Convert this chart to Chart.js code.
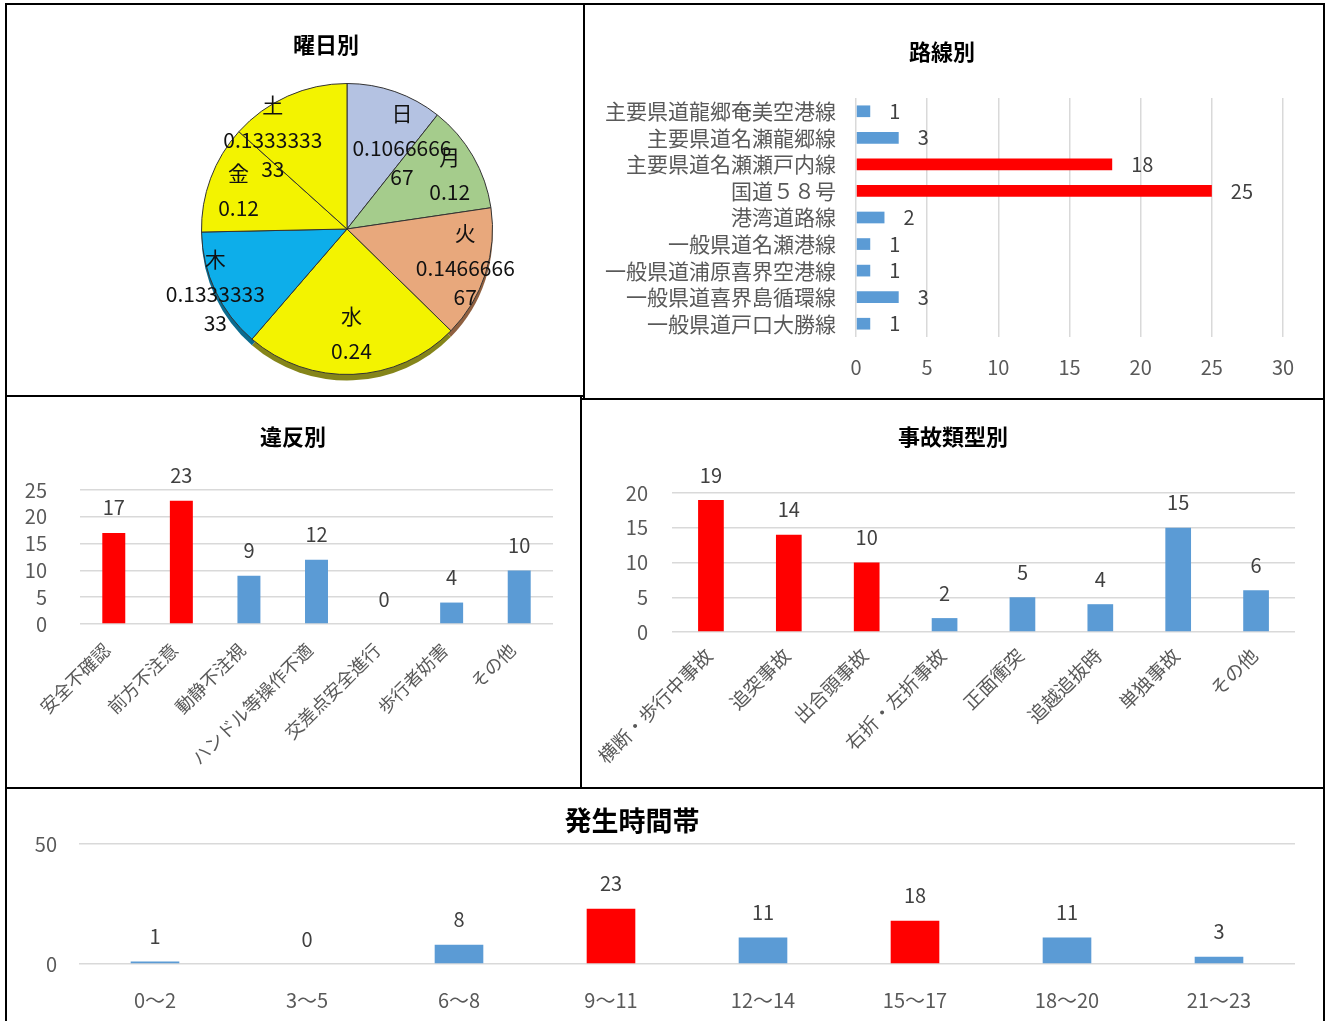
<!DOCTYPE html>
<html>
<head>
<meta charset="utf-8">
<script src="https://cdn.jsdelivr.net/npm/chart.js@4.4.1/dist/chart.umd.min.js"></script>
<style>
body{margin:0;background:#fff;}
#root{position:relative;width:1329px;height:1021px;overflow:hidden;font-family:'Noto Sans CJK JP',sans-serif;}
.panel{position:absolute;border:2px solid #000;box-sizing:border-box;}
.box{position:absolute;}
.ttl{position:absolute;transform:translate(-50%,-50%);font-weight:bold;font-size:22px;color:#000;white-space:nowrap;}
</style>
</head>
<body>
<div id="root">
  <div class="panel" style="left:5px;top:3px;width:580px;height:394px;"></div>
  <div class="panel" style="left:583px;top:3px;width:742px;height:397px;"></div>
  <div class="panel" style="left:5px;top:395px;width:577px;height:394px;"></div>
  <div class="panel" style="left:580px;top:398px;width:745px;height:391px;"></div>
  <div class="panel" style="left:5px;top:787px;width:1320px;height:240px;"></div>

  <div class="box" style="left:7px;top:5px;width:576px;height:390px;"><canvas id="chartDay"></canvas></div>
  <div class="box" style="left:585px;top:5px;width:738px;height:393px;"><canvas id="chartRoute"></canvas></div>
  <div class="box" style="left:7px;top:397px;width:573px;height:390px;"><canvas id="chartViol"></canvas></div>
  <div class="box" style="left:582px;top:400px;width:741px;height:387px;"><canvas id="chartType"></canvas></div>
  <div class="box" style="left:7px;top:789px;width:1316px;height:232px;"><canvas id="chartHour"></canvas></div>

  <div class="ttl" style="left:326px;top:43px;">曜日別</div>
  <div class="ttl" style="left:942px;top:50px;">路線別</div>
  <div class="ttl" style="left:293px;top:435px;">違反別</div>
  <div class="ttl" style="left:953px;top:435px;">事故類型別</div>
  <div class="ttl" style="left:632px;top:819px;font-size:27px;">発生時間帯</div>
</div>
<script>
// data
var dayLabels = ["日", "月", "火", "水", "木", "金", "土"];
var dayRatio = [0.106666667, 0.12, 0.146666667, 0.24, 0.133333333, 0.12, 0.133333333];

var routeLabels = ["主要県道龍郷奄美空港線", "主要県道名瀬龍郷線", "主要県道名瀬瀬戸内線", "国道５８号", "港湾道路線",
                   "一般県道名瀬港線", "一般県道浦原喜界空港線", "一般県道喜界島循環線", "一般県道戸口大勝線"];
var routeCounts = [1, 3, 18, 25, 2, 1, 1, 3, 1];

var violLabels = ["安全不確認", "前方不注意", "動静不注視", "ハンドル等操作不適", "交差点安全進行", "歩行者妨害", "その他"];
var violCounts = [17, 23, 9, 12, 0, 4, 10];

var typeLabels = ["横断・歩行中事故", "追突事故", "出合頭事故", "右折・左折事故", "正面衝突", "追越追抜時", "単独事故", "その他"];
var typeCounts = [19, 14, 10, 2, 5, 4, 15, 6];

var hourLabels = ["0～2", "3～5", "6～8", "9～11", "12～14", "15～17", "18～20", "21～23"];
var hourCounts = [1, 0, 8, 23, 11, 18, 11, 3];

var RED = "#ff0000", BLUE = "#5b9bd5", GRID = "#d9d9d9";

Chart.defaults.font.family = "'Noto Sans CJK JP', 'Noto Sans', sans-serif";
Chart.defaults.color = "#595959";
Chart.defaults.animation = false;

// value text next to each bar
var valueLabels = {
    id: 'valueLabels',
    afterDatasetsDraw: function(chart){
        var ctx = chart.ctx;
        var meta = chart.getDatasetMeta(0);
        var horiz = chart.options.indexAxis === 'y';
        ctx.save();
        ctx.font = "20px 'Noto Sans CJK JP'";
        ctx.fillStyle = "#404040";
        ctx.textBaseline = 'middle';
        meta.data.forEach(function(bar, i){
            var v = chart.data.datasets[0].data[i];
            if (horiz) {
                ctx.textAlign = 'left';
                ctx.fillText(v, bar.x + 19, bar.y);
            } else {
                ctx.textAlign = 'center';
                ctx.fillText(v, bar.x, bar.y - 25);
            }
        });
        ctx.restore();
    }
};

// pie: 3d-ish rim + labels inside slices
var pieShadow = {
    id: 'pieShadow',
    beforeDatasetsDraw: function(chart){
        var ctx = chart.ctx;
        var shade = ["#6d7590", "#5e7a4c", "#8f6040", "#85851a", "#0a6b8f", "#85851a", "#85851a"];
        ctx.save();
        chart.getDatasetMeta(0).data.forEach(function(arc, i){
            ctx.beginPath();
            ctx.moveTo(arc.x, arc.y + 6);
            ctx.arc(arc.x, arc.y + 6, arc.outerRadius, arc.startAngle, arc.endAngle);
            ctx.closePath();
            ctx.fillStyle = shade[i];
            ctx.fill();
        });
        ctx.restore();
    }
};

var pieLabels = {
    id: 'pieLabels',
    afterDatasetsDraw: function(chart){
        var ctx = chart.ctx;
        // label placement per slice: [angle shift in degrees, distance as share of radius]
        var place = [[14, 0.69], [2, 0.80], [-1, 0.85], [0, 0.72], [0, 1.0], [-1, 0.79], [-15, 0.81]];
        ctx.save();
        ctx.font = "21px 'Noto Sans CJK JP'";
        ctx.fillStyle = "#111";
        ctx.textAlign = 'center';
        ctx.textBaseline = 'middle';
        chart.getDatasetMeta(0).data.forEach(function(arc, i){
            var mid = (arc.startAngle + arc.endAngle) / 2 + place[i][0] * Math.PI / 180;
            var r = arc.outerRadius * place[i][1];
            var x = arc.x + Math.cos(mid) * r;
            var y = arc.y + Math.sin(mid) * r;
            var s = String(chart.data.datasets[0].data[i]);
            var lines = [chart.data.labels[i]];
            for (var k = 0; k < s.length; k += 9) lines.push(s.slice(k, k + 9));
            var ys = [0];
            for (var j = 1; j < lines.length; j++) ys.push(ys[j - 1] + (j == 1 ? 35 : 29));
            var y0 = y - ys[ys.length - 1] / 2;
            lines.forEach(function(t, j){ ctx.fillText(t, x, y0 + ys[j]); });
        });
        ctx.restore();
    }
};

new Chart(document.getElementById('chartDay'), {
    type: 'pie',
    data: {
        labels: dayLabels,
        datasets: [{
            data: dayRatio,
            backgroundColor: ["#b4c2e2", "#a5cc8c", "#e8a87c", "#f3f300", "#0daeea", "#f3f300", "#f3f300"],
            borderColor: "#333",
            borderWidth: 1
        }]
    },
    options: {
        responsive: true,
        maintainAspectRatio: false,
        layout: { padding: { top: 78, bottom: 20, left: 194, right: 90 } },
        plugins: { legend: { display: false }, tooltip: { enabled: false } }
    },
    plugins: [pieShadow, pieLabels]
});

// horizontal bars
new Chart(document.getElementById('chartRoute'), {
    type: 'bar',
    data: {
        labels: routeLabels,
        datasets: [{
            data: routeCounts,
            backgroundColor: [BLUE, BLUE, RED, RED, BLUE, BLUE, BLUE, BLUE, BLUE],
            categoryPercentage: 1,
            barPercentage: 0.44
        }]
    },
    options: {
        indexAxis: 'y',
        responsive: true,
        maintainAspectRatio: false,
        layout: { padding: { top: 93, right: 40, bottom: 0, left: 0 } },
        scales: {
            x: {
                min: 0, max: 30,
                ticks: { stepSize: 5, autoSkip: false, padding: 18, font: { size: 20 } },
                grid: { color: GRID, lineWidth: 1.5, drawTicks: false },
                border: { display: false },
                afterFit: function(s){ s.height = 61; }
            },
            y: {
                ticks: { autoSkip: false, padding: 20, font: { size: 21 } },
                grid: { display: false, drawTicks: false },
                border: { display: false },
                afterFit: function(s){ s.width = 271; }
            }
        },
        plugins: { legend: { display: false }, tooltip: { enabled: false } }
    },
    plugins: [valueLabels]
});

// vertical bars
function columnChart(id, labels, values, colors, o){
    return new Chart(document.getElementById(id), {
        type: 'bar',
        data: {
            labels: labels,
            datasets: [{
                data: values,
                backgroundColor: colors,
                categoryPercentage: 1,
                barPercentage: o.bar
            }]
        },
        options: {
            responsive: true,
            maintainAspectRatio: false,
            layout: { padding: { top: o.top, right: o.right, bottom: 0, left: 0 } },
            scales: {
                x: {
                    ticks: { autoSkip: false, minRotation: o.rot, maxRotation: o.rot, padding: o.xpad,
                             labelOffset: o.shift, font: { size: o.xfont } },
                    grid: { display: false, drawTicks: false },
                    border: { display: false },
                    afterFit: function(s){ s.height = o.xh; }
                },
                y: {
                    min: 0, max: o.max,
                    ticks: { stepSize: o.step, autoSkip: false, padding: o.ypad, font: { size: 20 } },
                    grid: { color: GRID, lineWidth: 1.5, drawTicks: false },
                    border: { display: false },
                    afterFit: function(s){ s.width = o.yw; }
                }
            },
            plugins: { legend: { display: false }, tooltip: { enabled: false } }
        },
        plugins: [valueLabels]
    });
}

columnChart('chartViol', violLabels, violCounts,
    [RED, RED, BLUE, BLUE, BLUE, BLUE, BLUE],
    { bar: 0.34, top: 93, right: 27, rot: 45, xpad: 15, shift: -7, xfont: 18, xh: 163, max: 25, step: 5, ypad: 33, yw: 73 });

columnChart('chartType', typeLabels, typeCounts,
    [RED, RED, RED, BLUE, BLUE, BLUE, BLUE, BLUE],
    { bar: 0.33, top: 93, right: 28, rot: 45, xpad: 12, shift: -2, xfont: 19, xh: 155, max: 20, step: 5, ypad: 24, yw: 90 });

columnChart('chartHour', hourLabels, hourCounts,
    [BLUE, BLUE, BLUE, RED, BLUE, RED, BLUE, BLUE],
    { bar: 0.32, top: 55, right: 28, rot: 0, xpad: 24, shift: 0, xfont: 20, xh: 57, max: 50, step: 50, ypad: 22, yw: 72 });
</script>
</body>
</html>
